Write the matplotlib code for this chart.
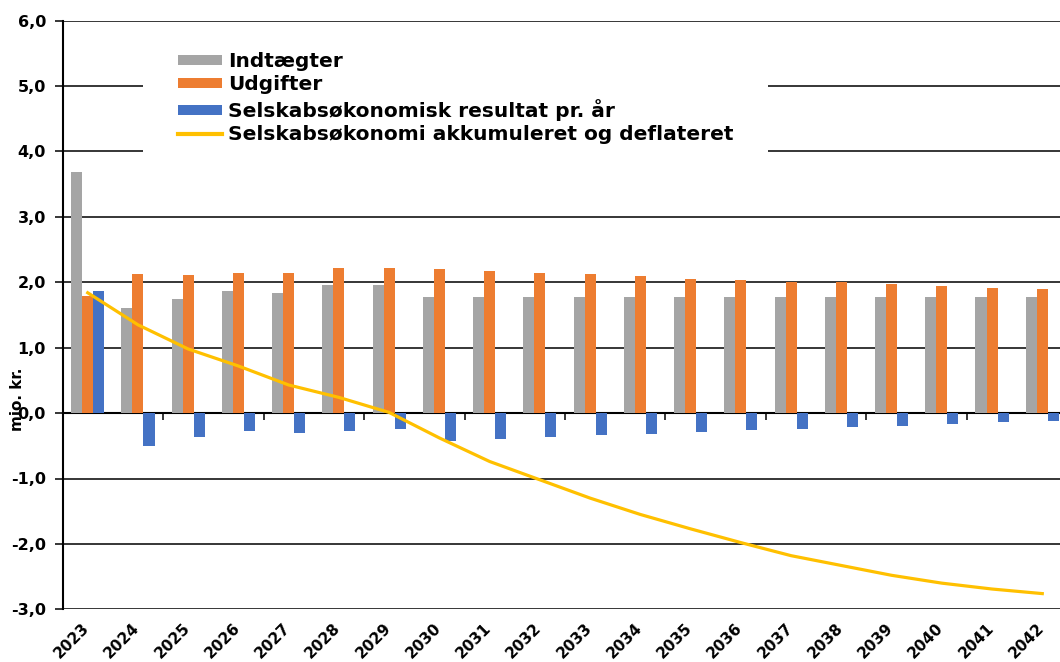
import numpy as np
import matplotlib
matplotlib.use("Agg")
import matplotlib.pyplot as plt
from matplotlib.ticker import FuncFormatter, FixedLocator
from matplotlib.patches import Rectangle
import matplotlib.transforms as mtransforms

years = [str(y) for y in range(2023, 2043)]

indtaegter = [3.68, 1.60, 1.74, 1.86, 1.83, 1.96, 1.96, 1.78, 1.78, 1.78,
              1.78, 1.78, 1.78, 1.78, 1.78, 1.78, 1.78, 1.78, 1.78, 1.78]
udgifter = [1.79, 2.12, 2.11, 2.14, 2.14, 2.22, 2.22, 2.20, 2.17, 2.14,
            2.12, 2.09, 2.05, 2.04, 2.01, 2.00, 1.97, 1.94, 1.92, 1.89]
resultat = [1.86, -0.50, -0.37, -0.27, -0.31, -0.27, -0.25, -0.42, -0.39, -0.37,
            -0.34, -0.32, -0.29, -0.26, -0.24, -0.22, -0.19, -0.17, -0.14, -0.12]
akkumuleret = [1.84, 1.35, 0.98, 0.72, 0.43, 0.24, 0.01, -0.38, -0.74, -1.02,
               -1.30, -1.55, -1.77, -1.98, -2.18, -2.33, -2.48, -2.60, -2.69, -2.76]

labels = ["Indtægter", "Udgifter", "Selskabsøkonomisk resultat pr. år",
          "Selskabsøkonomi akkumuleret og deflateret"]

plt.rcParams['font.family'] = ['DejaVu Sans']

W, H = 1060, 662
fig = plt.figure(figsize=(W / 100, H / 100), dpi=100)
ax = fig.add_axes([62.6 / W, 1 - 609.3 / H, 1004.8 / W, 588.6 / H])

x = np.arange(len(years))
bw = 0.22
b1 = ax.bar(x - bw, indtaegter, bw, color='#A5A5A5', label=labels[0], zorder=3)
b2 = ax.bar(x, udgifter, bw, color='#ED7D31', label=labels[1], zorder=3)
b3 = ax.bar(x + bw, resultat, bw, color='#4472C4', label=labels[2], zorder=3)
l1, = ax.plot(x, akkumuleret, color='#FFC000', lw=2.3, label=labels[3], zorder=4)

ax.set_xlim(-0.5, len(years) - 0.5)
ax.set_ylim(-3, 6)
ax.set_yticks(np.arange(-3, 7, 1))
ax.yaxis.set_major_formatter(FuncFormatter(lambda v, p: f"{v:.1f}".replace('.', ',')))
ax.yaxis.grid(True, color='black', lw=1.1, zorder=1)
ax.set_axisbelow(True)

for s in ['top', 'right', 'bottom']:
    ax.spines[s].set_visible(False)
ax.spines['left'].set_linewidth(1.5)
ax.tick_params(axis='y', length=6, width=1.1, direction='out', pad=6, labelsize=11.5)
for t in ax.get_yticklabels():
    t.set_fontweight('bold')

ax.set_xticks(x)
ax.set_xticklabels(years, rotation=45, ha='right', rotation_mode='anchor',
                   fontsize=11, fontweight='bold')
ax.tick_params(axis='x', length=0, pad=8)
shift = mtransforms.ScaledTranslation(-6 / 100, 0, fig.dpi_scale_trans)
for t in ax.get_xticklabels():
    t.set_transform(t.get_transform() + shift)

# zero line with category-boundary tick marks
sec = ax.secondary_xaxis(3 / 9)
sec.xaxis.set_major_locator(FixedLocator(np.arange(-0.5, len(years), 2)))
sec.tick_params(axis='x', length=5, width=1.1, direction='out', labelbottom=False)
sec.spines['bottom'].set_linewidth(1.5)

fig.text(18 / W, 1 - 399 / H, "mio. kr.", rotation=90, ha='center', va='center',
         fontsize=11, fontweight='bold')

# white legend background box
fig.add_artist(Rectangle((143 / W, 1 - 162 / H), 625 / W, 130 / H,
                         transform=fig.transFigure, facecolor='white',
                         edgecolor='none', zorder=4))

leg = fig.legend([b1, b2, b3, l1], labels, loc='upper left',
                 bbox_to_anchor=(178 / W, 1 - 52 / H),
                 frameon=False, borderaxespad=0, borderpad=0,
                 prop={'weight': 'bold', 'size': 14.5},
                 handlelength=2.2, handleheight=0.4, handletextpad=0.3,
                 labelspacing=0.22)
leg.set_zorder(6)
for ln in leg.get_lines():
    ln.set_linewidth(3)

fig.savefig("out.png", dpi=100)
